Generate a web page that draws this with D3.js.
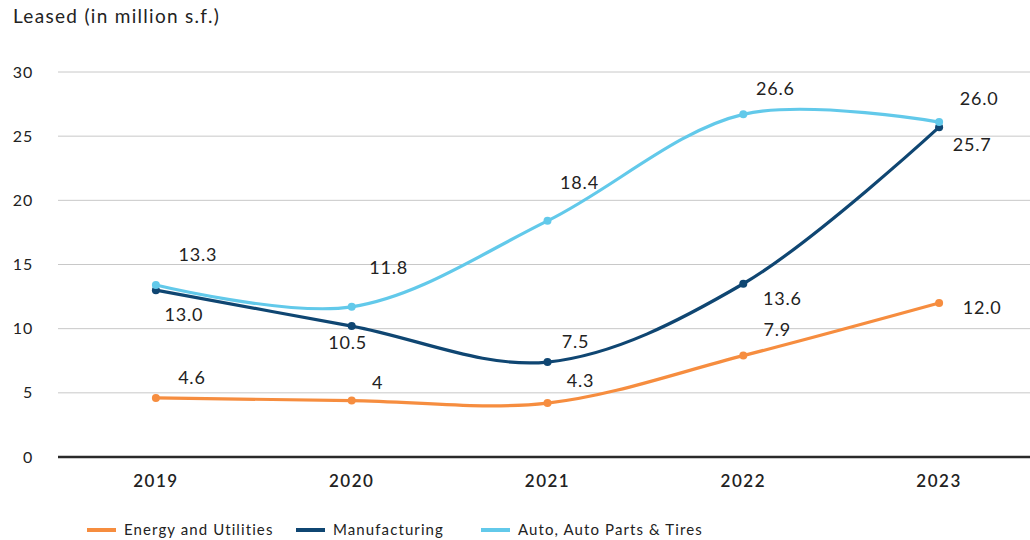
<!DOCTYPE html>
<html>
<head>
<meta charset="utf-8">
<script src="https://cdn.jsdelivr.net/npm/d3@7"></script>
<style>
  body { margin: 0; background: #fff; }
  svg { display: block; font-family: Lato, "Noto Sans", sans-serif; }
</style>
</head>
<body>
<svg width="1030" height="540"></svg>
<script>
// data
var years = ["2019", "2020", "2021", "2022", "2023"];
var yTicks = [0, 5, 10, 15, 20, 25, 30];

var energyValues = [4.6, 4.4, 4.2, 7.9, 12.0];
var energyLabels = ["4.6", "4", "4.3", "7.9", "12.0"];

var manufValues = [13.0, 10.2, 7.4, 13.5, 25.7];
var manufLabels = ["13.0", "10.5", "7.5", "13.6", "25.7"];

var autoValues = [13.4, 11.7, 18.4, 26.7, 26.1];
var autoLabels = ["13.3", "11.8", "18.4", "26.6", "26.0"];

var seriesNames = ["Energy and Utilities", "Manufacturing", "Auto, Auto Parts & Tires"];

// layout / style
var colors = ["#f68d3f", "#0f4672", "#62c9ea"];
// label offsets from each point (center of text), in px
var labelOffsets = [
  [[36, -20], [26, -18], [33, -22], [34, -26], [43, 5]],
  [[28, 25], [-4, 17], [28, -20], [39, 15], [33, 18]],
  [[42, -30], [37, -39], [32, -38], [32, -26], [40, -23]]
];

var svg = d3.select("svg");

var x = d3.scalePoint().domain(years).range([58, 1037]).padding(0.5);
var y = d3.scaleLinear().domain([0, 30]).range([457, 72]);

// title
svg.append("text")
  .attr("x", 13).attr("y", 23)
  .attr("font-size", 19).attr("letter-spacing", 1.3).attr("fill", "#222")
  .text("Leased (in million s.f.)");

// gridlines + y tick labels
svg.append("g").selectAll("line")
  .data(yTicks.filter(function(d) { return d > 0; }))
  .enter().append("line")
    .attr("x1", 58).attr("x2", 1030)
    .attr("y1", function(d) { return y(d); })
    .attr("y2", function(d) { return y(d); })
    .attr("stroke", "#c8c8c8").attr("stroke-width", 1);

svg.append("line")
  .attr("x1", 58).attr("x2", 1030)
  .attr("y1", y(0)).attr("y2", y(0))
  .attr("stroke", "#2a2a2a").attr("stroke-width", 2.5);

svg.append("g").selectAll("text")
  .data(yTicks)
  .enter().append("text")
    .attr("x", 33)
    .attr("y", function(d) { return y(d); })
    .attr("dy", "0.35em")
    .attr("text-anchor", "end")
    .attr("font-size", 16).attr("letter-spacing", 0.8).attr("fill", "#222")
    .text(function(d) { return d; });

// x labels
svg.append("g").selectAll("text")
  .data(years)
  .enter().append("text")
    .attr("x", function(d) { return x(d); })
    .attr("y", 481)
    .attr("dy", "0.35em")
    .attr("text-anchor", "middle")
    .attr("font-size", 17).attr("font-weight", 600).attr("letter-spacing", 1.5).attr("fill", "#222")
    .text(function(d) { return d; });

// lines
var allValues = [energyValues, manufValues, autoValues];
var allLabels = [energyLabels, manufLabels, autoLabels];

var line = d3.line()
  .x(function(d, i) { return x(years[i]); })
  .y(function(d) { return y(d); })
  .curve(d3.curveCatmullRom);

allValues.forEach(function(vals, s) {
  var g = svg.append("g");
  g.append("path")
    .attr("d", line(vals))
    .attr("fill", "none")
    .attr("stroke", colors[s])
    .attr("stroke-width", 3.2);
  g.selectAll("circle")
    .data(vals)
    .enter().append("circle")
      .attr("cx", function(d, i) { return x(years[i]); })
      .attr("cy", function(d) { return y(d); })
      .attr("r", 4)
      .attr("fill", colors[s]);
});

// value labels
allValues.forEach(function(vals, s) {
  svg.append("g").selectAll("text")
    .data(vals)
    .enter().append("text")
      .attr("x", function(d, i) { return x(years[i]) + labelOffsets[s][i][0]; })
      .attr("y", function(d, i) { return y(d) + labelOffsets[s][i][1]; })
      .attr("dy", "0.35em")
      .attr("text-anchor", "middle")
      .attr("font-size", 18).attr("letter-spacing", 0.8).attr("fill", "#222")
      .text(function(d, i) { return allLabels[s][i]; });
});

// legend
var legendX = [87, 296, 481];
var legend = svg.append("g").selectAll("g")
  .data(seriesNames)
  .enter().append("g")
    .attr("transform", function(d, i) { return "translate(" + legendX[i] + ",530)"; });
legend.append("line")
  .attr("x1", 0).attr("x2", 29)
  .attr("stroke", function(d, i) { return colors[i]; })
  .attr("stroke-width", 4);
legend.append("text")
  .attr("x", 37).attr("dy", "0.35em")
  .attr("font-size", 15).attr("letter-spacing", 1.1).attr("fill", "#222")
  .text(function(d) { return d; });
</script>
</body>
</html>
